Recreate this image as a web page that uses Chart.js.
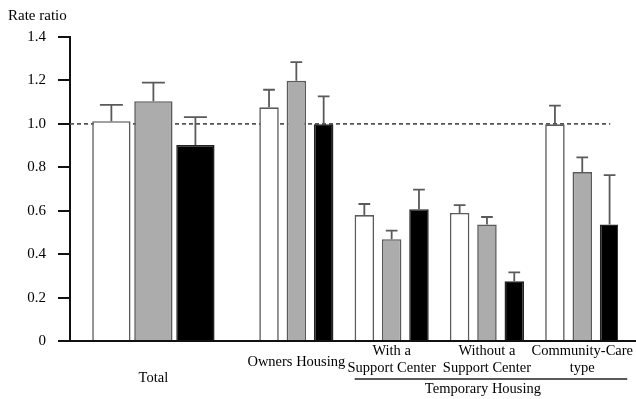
<!DOCTYPE html>
<html><head><meta charset="utf-8">
<script src="https://cdn.jsdelivr.net/npm/chart.js@4"></script>
<style>html,body{margin:0;padding:0;background:#fff}#wrap{width:636px;height:399px;position:relative}</style>
</head><body><div id="wrap"><canvas id="c"></canvas></div>
<script>
// ---- data ----
const groups = ['Total', 'Owners Housing', ['With a', 'Support Center'], ['Without a', 'Support Center'], ['Community-Care', 'type']];
const bracketLabel = 'Temporary Housing';
const yTitle = 'Rate ratio';
const white    = [1.012, 1.076, 0.580, 0.590, 0.998];
const whiteErr = [1.087, 1.157, 0.631, 0.626, 1.084];
const gray     = [1.104, 1.198, 0.469, 0.537, 0.778];
const grayErr  = [1.190, 1.284, 0.508, 0.571, 0.846];
const black    = [0.903, 0.998, 0.607, 0.275, 0.537];
const blackErr = [1.031, 1.127, 0.697, 0.316, 0.764];
const yTickValues = [0, 0.2, 0.4, 0.6, 0.8, 1.0, 1.2, 1.4];
const refValue = 1.0;

// ---- layout of category slots (spacers between groups) ----
const slotOfGroup = [3, 9, 13, 17, 21];
const slotCount = 23;
const FONT = "'Liberation Serif', 'Times New Roman', serif";
const FSX = 14.5;
const FSY = 15;

const labels = Array.from({length: slotCount}, () => '');
slotOfGroup.forEach((s, i) => labels[s] = groups[i]);

function toSlots(arr, which) {
  const out = Array(slotCount).fill(null);
  arr.forEach((v, i) => { if (which(i)) out[slotOfGroup[i]] = v; });
  return out;
}
const isTotal = i => i === 0;
const isOther = i => i !== 0;

const styles = {
  w: {backgroundColor: '#ffffff', borderColor: '#5a5a5a'},
  g: {backgroundColor: '#acacac', borderColor: '#5a5a5a'},
  b: {backgroundColor: '#000000', borderColor: '#222222'}
};
function ds(vals, errs, which, stack, wide) {
  return Object.assign({
    data: toSlots(vals, which),
    errUpper: toSlots(errs, which),
    stack: stack,
    borderWidth: 1.6,
    borderSkipped: 'start',
    categoryPercentage: wide ? 5.29 : 3.44,
    barPercentage: wide ? 0.912 : 0.714
  }, styles[stack]);
}
const datasets = [
  ds(white, whiteErr, isTotal, 'w', true),
  ds(gray, grayErr, isTotal, 'g', true),
  ds(black, blackErr, isTotal, 'b', true),
  ds(white, whiteErr, isOther, 'w', false),
  ds(gray, grayErr, isOther, 'g', false),
  ds(black, blackErr, isOther, 'b', false)
];

const extras = {
  id: 'extras',
  beforeDatasetsDraw(chart) {
    const {ctx, chartArea, scales} = chart;
    const y = scales.y.getPixelForValue(refValue);
    const xEnd = scales.x.getPixelForValue(slotOfGroup[4]) + 28;
    ctx.save();
    ctx.strokeStyle = '#555';
    ctx.lineWidth = 1.6;
    ctx.setLineDash([4, 3]);
    ctx.beginPath();
    ctx.moveTo(chartArea.left, y);
    ctx.lineTo(xEnd, y);
    ctx.stroke();
    ctx.restore();
  },
  afterDatasetsDraw(chart) {
    const {ctx, scales} = chart;
    ctx.save();
    ctx.strokeStyle = '#5a5a5a';
    ctx.lineWidth = 1.8;
    chart.data.datasets.forEach((d, di) => {
      const meta = chart.getDatasetMeta(di);
      meta.data.forEach((el, i) => {
        if (d.data[i] == null || d.errUpper[i] == null) return;
        const top = scales.y.getPixelForValue(d.errUpper[i]);
        const half = el.width * 0.3;
        ctx.beginPath();
        ctx.moveTo(el.x, el.y);
        ctx.lineTo(el.x, top);
        ctx.moveTo(el.x - half, top);
        ctx.lineTo(el.x + half, top);
        ctx.stroke();
      });
    });
    ctx.restore();
  },
  afterDraw(chart) {
    const {ctx, chartArea, scales} = chart;
    ctx.save();
    // baseline extension
    ctx.strokeStyle = '#111';
    ctx.lineWidth = 2;
    ctx.beginPath();
    ctx.moveTo(chartArea.right - 1, chartArea.bottom);
    ctx.lineTo(chart.width, chartArea.bottom);
    ctx.stroke();
    // bracket
    const xa = scales.x.getPixelForValue(slotOfGroup[2]);
    const xb = scales.x.getPixelForValue(slotOfGroup[4]);
    ctx.strokeStyle = '#222';
    ctx.lineWidth = 1.4;
    ctx.beginPath();
    ctx.moveTo(xa - 37, 379);
    ctx.lineTo(xb + 45, 379);
    ctx.stroke();
    ctx.fillStyle = '#000';
    ctx.font = FSX + 'px ' + FONT;
    ctx.textAlign = 'center';
    ctx.textBaseline = 'middle';
    ctx.fillText(bracketLabel, (xa + xb) / 2 - 4, 389);
    ctx.font = FSY + 'px ' + FONT;
    ctx.textAlign = 'left';
    ctx.fillText(yTitle, 8, 16);
    ctx.restore();
  }
};

new Chart(document.getElementById('c'), {
  type: 'bar',
  data: {labels, datasets},
  options: {
    responsive: true,
    maintainAspectRatio: false,
    animation: false,
    layout: {padding: {top: 37, right: 18, left: 0, bottom: 0}},
    plugins: {legend: {display: false}, tooltip: {enabled: false}, title: {display: false}},
    scales: {
      x: {
        offset: true,
        z: 1,
        grid: {display: false, drawTicks: false},
        border: {display: true, color: '#111', width: 2},
        ticks: {
          autoSkip: false,
          maxRotation: 0,
          minRotation: 0,
          padding: 1,
          color: '#000',
          font: (c) => {
            const lab = labels[c.index];
            let lh = 17.5;
            if (lab === 'Total') lh = 72;
            else if (lab === 'Owners Housing') lh = 41;
            return {family: FONT, size: FSX, lineHeight: lh + 'px'};
          }
        },
        afterFit(s) { s.height = 58; }
      },
      y: {
        min: 0,
        max: 1.4,
        stacked: false,
        afterBuildTicks(s) { s.ticks = yTickValues.map(v => ({value: v})); },
        grid: {drawOnChartArea: false, drawTicks: true, tickLength: 12, color: '#111', lineWidth: 2},
        border: {display: true, color: '#111', width: 2},
        ticks: {
          padding: 12,
          color: '#000',
          font: {family: FONT, size: FSY},
          callback: v => v === 0 ? '0' : v.toFixed(1)
        },
        afterFit(s) { s.width = 70; }
      }
    }
  },
  plugins: [extras]
});
</script>
</body></html>
